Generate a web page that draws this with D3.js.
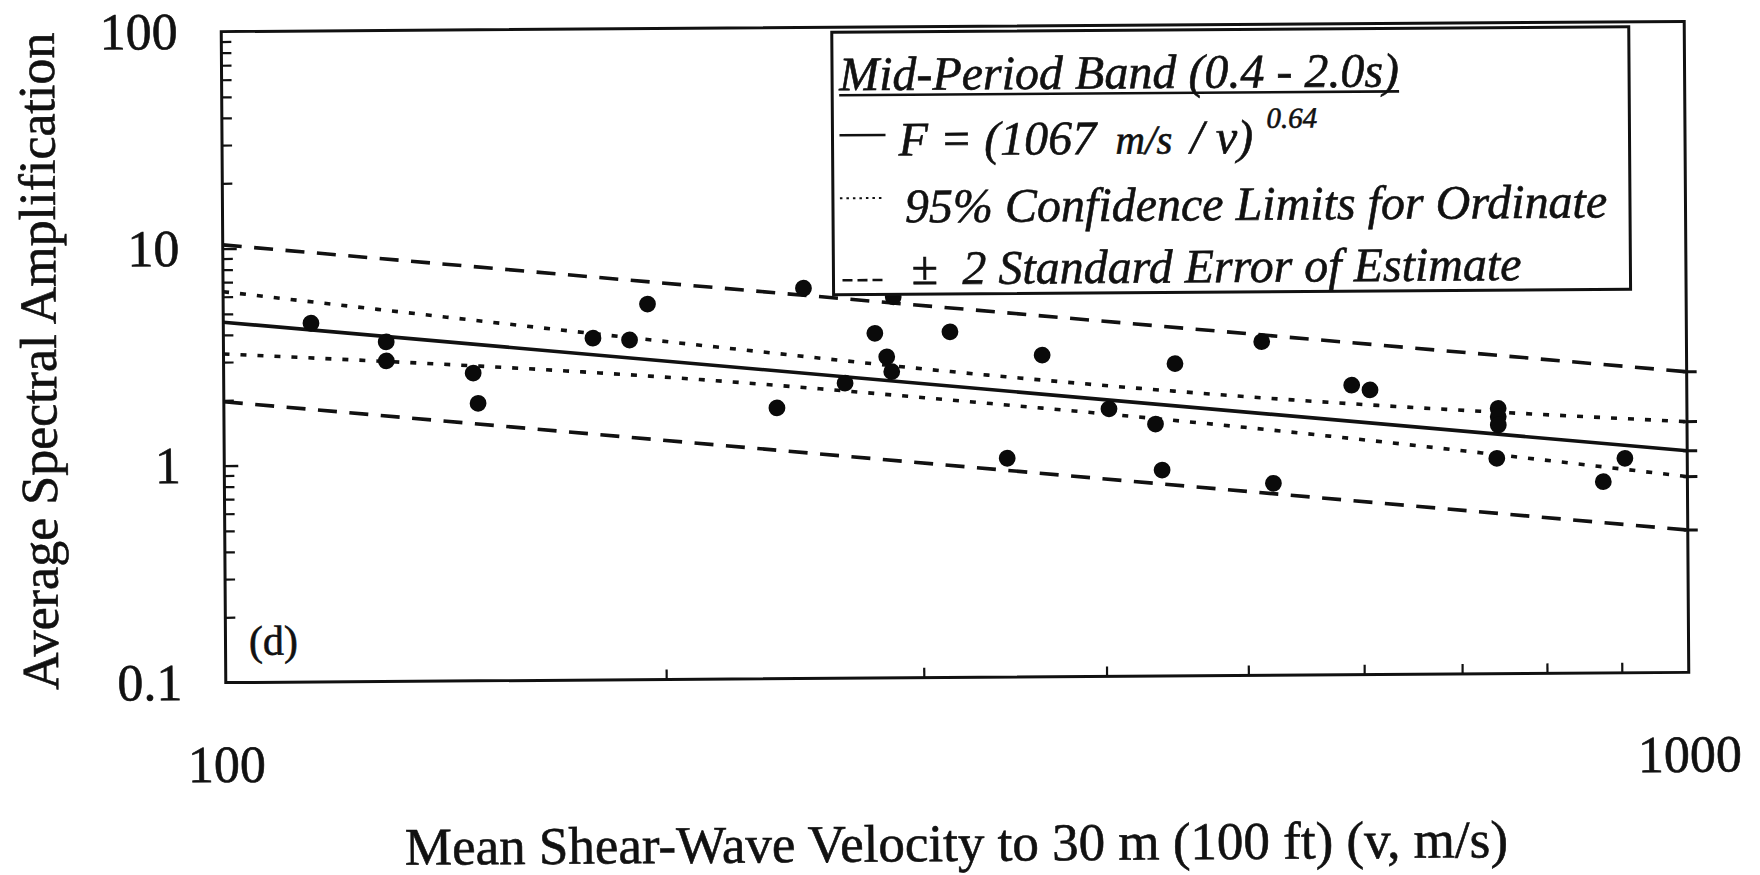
<!DOCTYPE html>
<html>
<head>
<meta charset="utf-8">
<script src="https://cdn.jsdelivr.net/npm/d3@7"></script>
<style>
  html, body { margin: 0; padding: 0; background: #ffffff; }
  svg { display: block; }
</style>
</head>
<body>
<svg id="chart" width="1760" height="875"></svg>
<script>
// ---------------- data ----------------
const velocity = [114.8, 129.2, 129.2, 148.1, 149.2, 178.9, 189.5, 195.0, 249.3, 287.1,
                  278.8, 313.8, 284.0, 286.2, 265.9, 238.8, 362.7, 447.0, 342.9, 402.7,
                  433.2, 437.5, 512.5, 521.2, 590.2, 607.4, 743, 743, 743, 741, 906.5, 876];
const amplification = [4.50, 3.67, 3.00, 2.62, 1.90, 3.76, 3.68, 5.38, 6.29, 5.71,
                       3.88, 3.92, 3.02, 2.58, 2.29, 1.77, 3.04, 2.75, 1.02, 1.71,
                       1.45, 0.890, 3.45, 0.767, 2.16, 2.05, 1.67, 1.53, 1.40, 0.983, 0.974, 0.761];

const fitV = [100, 1000];
const fitA = [4.58, 1.05];
const seV = [100, 1000];
const seUpper = [10.4, 2.43];
const seLower = [1.97, 0.453];
const ciV = [100, 221, 314, 480, 1000];
const ciUpper = [6.33, 3.35, 2.57, 1.97, 1.43];
const ciLower = [3.27, 2.35, 1.90, 1.43, 0.798];

const xTickLabels = [100, 1000];
const xMinorTicks = [200, 300, 400, 500, 600, 700, 800, 900];
const yTickLabels = [0.1, 1, 10, 100];
const yMajorTicks = [1, 10];
const yMinorTicks = [0.2,0.3,0.4,0.5,0.6,0.7,0.8,0.9, 2,3,4,5,6,7,8,9, 20,30,40,50,60,70,80,90];

const xTitle = "Mean Shear-Wave Velocity to 30 m (100 ft) (v, m/s)";
const yTitle = "Average Spectral Amplification";
const panelLabel = "(d)";
const legendTitle = "Mid-Period Band (0.4 - 2.0s)";

// ---------------- layout ----------------
const L = 223.5, R = 1686.5, T = 26.5, B = 677.5;
const serif = "'Liberation Serif', 'Times New Roman', Times, serif";
const ink = "#111";

const svg = d3.select("#chart");
svg.append("rect").attr("width", 1760).attr("height", 875).attr("fill", "#fff");

// whole scanned figure is slightly tilted
const g = svg.append("g").attr("transform", "rotate(-0.4, 955, 352)");

const x = d3.scaleLog().domain([100, 1000]).range([L, R]);
const y = d3.scaleLog().domain([0.1, 100]).range([B, T]);

const inkText = s => s.attr("font-family", serif).attr("fill", ink)
  .attr("stroke", ink).attr("stroke-width", 0.6);

// ---------------- axes ticks ----------------
const yMinorAxis = d3.axisLeft(y).tickValues(yMinorTicks).tickSize(-10).tickFormat("");
g.append("g").attr("transform", `translate(${L},0)`).call(yMinorAxis)
  .call(s => s.select(".domain").remove())
  .call(s => s.selectAll("line").attr("stroke", ink).attr("stroke-width", 2.2));

const yMajorAxis = d3.axisLeft(y).tickValues(yMajorTicks).tickSize(-14).tickFormat("");
g.append("g").attr("transform", `translate(${L},0)`).call(yMajorAxis)
  .call(s => s.select(".domain").remove())
  .call(s => s.selectAll("line").attr("stroke", ink).attr("stroke-width", 2.4));

const yLabelAxis = d3.axisLeft(y).tickValues(yTickLabels).tickSize(0).tickPadding(43.5)
  .tickFormat(d => d < 1 ? d3.format(".1f")(d) : d3.format("d")(d));
g.append("g").attr("transform", `translate(${L},0)`).call(yLabelAxis)
  .call(s => s.select(".domain").remove())
  .call(s => s.selectAll("text").call(inkText).attr("font-size", 52));

const xMinorAxis = d3.axisBottom(x).tickValues(xMinorTicks).tickSize(-10).tickFormat("");
g.append("g").attr("transform", `translate(0,${B})`).call(xMinorAxis)
  .call(s => s.select(".domain").remove())
  .call(s => s.selectAll("line").attr("stroke", ink).attr("stroke-width", 2.2));

const xLabelAxis = d3.axisBottom(x).tickValues(xTickLabels).tickSize(0).tickPadding(62.5)
  .tickFormat(d3.format("d"));
g.append("g").attr("transform", `translate(0,${B})`).call(xLabelAxis)
  .call(s => s.select(".domain").remove())
  .call(s => s.selectAll("text").call(inkText).attr("font-size", 52));

// ---------------- curves ----------------
const line = d3.line().x(d => x(d[0])).y(d => y(d[1]));
const smooth = d3.line().x(d => x(d[0])).y(d => y(d[1])).curve(d3.curveMonotoneX);

const curves = [
  { v: seV, a: seUpper, dash: "19 12.5", gen: line },
  { v: seV, a: seLower, dash: "19 12.5", gen: line },
  { v: ciV, a: ciUpper, dash: "6 11", gen: smooth },
  { v: ciV, a: ciLower, dash: "6 11", gen: smooth },
  { v: fitV, a: fitA, dash: null, gen: line }
];
curves.forEach(c => {
  const pts = c.v.map((v, i) => [v, c.a[i]]);
  g.append("path").attr("d", c.gen(pts)).attr("fill", "none")
    .attr("stroke", ink).attr("stroke-width", 3.6)
    .attr("stroke-dasharray", c.dash);
  const last = pts[pts.length - 1];
  g.append("line").attr("x1", x(last[0]) - 4).attr("x2", x(last[0]) + 10)
    .attr("y1", y(last[1])).attr("y2", y(last[1]))
    .attr("stroke", ink).attr("stroke-width", 3);
});

// ---------------- points ----------------
g.append("g").selectAll("circle")
  .data(velocity.map((v, i) => [v, amplification[i]]))
  .join("circle")
  .attr("cx", d => x(d[0])).attr("cy", d => y(d[1])).attr("r", 8.4).attr("fill", "#0a0a0a");

// ---------------- frame ----------------
g.append("rect").attr("x", L).attr("y", T).attr("width", R - L).attr("height", B - T)
  .attr("fill", "none").attr("stroke", ink).attr("stroke-width", 3);

// ---------------- legend ----------------
const lg = g.append("g");
lg.append("rect").attr("x", 834).attr("y", 31.5).attr("width", 797).attr("height", 262.5)
  .attr("fill", "#fff").attr("stroke", ink).attr("stroke-width", 3);

const it = (xx, yy, size, txt) => lg.append("text").attr("x", xx).attr("y", yy)
  .call(inkText).attr("font-style", "italic").attr("font-size", size).text(txt);

const tTitle = it(841, 89.5, 48, legendTitle);
const tw = tTitle.node().getComputedTextLength();
lg.append("line").attr("x1", 841).attr("x2", 841 + tw).attr("y1", 94.5).attr("y2", 94.5)
  .attr("stroke", ink).attr("stroke-width", 2.6);

// row 2: solid
lg.append("line").attr("x1", 841).attr("x2", 887).attr("y1", 134.5).attr("y2", 134.5)
  .attr("stroke", ink).attr("stroke-width", 2.6);
it(900, 155, 48, "F = (1067");
it(1117, 155, 41, "m/s");
it(1192, 155, 48, "/ v)");
it(1268, 130, 29, "0.64");

// row 3: dotted
lg.append("line").attr("x1", 841).attr("x2", 885).attr("y1", 197.5).attr("y2", 197.5)
  .attr("stroke", ink).attr("stroke-width", 2).attr("stroke-dasharray", "2.5 4");
it(906, 222, 48, "95% Confidence Limits for Ordinate");

// row 4: dashed
lg.append("line").attr("x1", 843).attr("x2", 885).attr("y1", 279.5).attr("y2", 279.5)
  .attr("stroke", ink).attr("stroke-width", 2.6).attr("stroke-dasharray", "10 5");
it(912, 284, 48, "\u00B1");
it(963, 284, 48, "2 Standard Error of Estimate");

// ---------------- titles ----------------
g.append("text").attr("x", 247).attr("y", 650).call(inkText)
  .attr("font-size", 42).text(panelLabel);

g.append("text").attr("x", 953).attr("y", 861).attr("text-anchor", "middle")
  .call(inkText).attr("font-size", 53).text(xTitle);

g.append("text").attr("transform", "translate(56,355) rotate(-90)").attr("text-anchor", "middle")
  .call(inkText).attr("font-size", 52).text(yTitle);
</script>
</body>
</html>
